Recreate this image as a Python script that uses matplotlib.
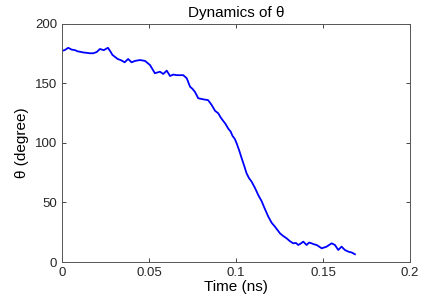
import matplotlib
matplotlib.use('Agg')
import matplotlib.pyplot as plt

plt.rcParams['font.family'] = ['Liberation Sans', 'DejaVu Sans']

# values
time_ns = [0.0, 0.0015, 0.0036, 0.0055, 0.0075, 0.0090, 0.0103, 0.0125, 0.0140,
           0.0160, 0.0180, 0.0200, 0.0218, 0.0240, 0.0264, 0.0280, 0.0290,
           0.0320, 0.0340, 0.0360, 0.0380, 0.0400, 0.0420, 0.0448, 0.0477,
           0.0506, 0.0534, 0.0563, 0.0582, 0.0602, 0.0621, 0.0640, 0.0659,
           0.0697, 0.0717, 0.0736, 0.0750, 0.0764, 0.0783, 0.0812, 0.0840,
           0.0860, 0.0880, 0.0898, 0.0912, 0.0927, 0.0940, 0.0956, 0.0970,
           0.0980, 0.0993, 0.1004, 0.1018, 0.1033, 0.1047, 0.1061, 0.1075,
           0.1090, 0.1110, 0.1128, 0.1148, 0.1165, 0.1186, 0.1205, 0.1224,
           0.1253, 0.1270, 0.1291, 0.1310, 0.1329, 0.1345, 0.1358, 0.1372,
           0.1387, 0.1406, 0.1420, 0.1435, 0.1450, 0.1464, 0.1493, 0.1521,
           0.1550, 0.1569, 0.1588, 0.1607, 0.1626, 0.1646, 0.1665, 0.1684]
theta_deg = [177.5, 178.0, 180.0, 178.5, 178.0, 177.0, 176.7, 176.0, 175.8,
             175.4, 175.4, 176.5, 179.0, 178.0, 180.0, 176.5, 174.0,
             170.6, 169.5, 167.8, 170.6, 167.8, 169.0, 169.7, 169.0,
             165.5, 158.6, 159.9, 158.0, 160.8, 156.3, 157.5, 157.0,
             157.0, 154.4, 147.3, 145.5, 143.0, 137.6, 136.7, 136.0,
             132.0, 127.0, 125.0, 121.5, 118.5, 116.0, 112.0, 109.5,
             106.0, 103.5, 99.7, 94.0, 87.1, 81.0, 74.5, 70.5,
             67.5, 62.0, 56.3, 51.0, 45.0, 38.1, 33.0, 29.7,
             24.1, 22.0, 19.9, 17.5, 15.7, 16.0, 14.3, 15.5,
             17.1, 14.3, 16.3, 15.7, 14.8, 14.3, 11.5, 12.9,
             15.7, 14.3, 10.1, 12.9, 10.1, 8.7, 8.0, 6.5]

fig = plt.figure(figsize=(4.36, 2.98), dpi=100)
ax = fig.add_axes([0.1422, 0.1208, 0.798, 0.7987])
ax.plot(time_ns, theta_deg, color='#0000ff', linewidth=1.3)

ax.set_xlim(0, 0.2)
ax.set_ylim(0, 200)
ax.set_xticks([0, 0.05, 0.1, 0.15, 0.2])
ax.set_xticklabels(['0', '0.05', '0.1', '0.15', '0.2'])
ax.set_yticks([0, 50, 100, 150, 200])
ax.tick_params(direction='in', top=True, right=True, labelsize=9.5,
               length=3, width=0.6, colors='#262626')
for s in ax.spines.values():
    s.set_linewidth(0.7)
    s.set_color('#555555')

ax.set_title('Dynamics of θ', fontsize=11, pad=5)
ax.set_xlabel('Time (ns)', fontsize=11, labelpad=1)
ax.set_ylabel('θ (degree)', fontsize=11, labelpad=4)

fig.savefig('out.png', dpi=100)
